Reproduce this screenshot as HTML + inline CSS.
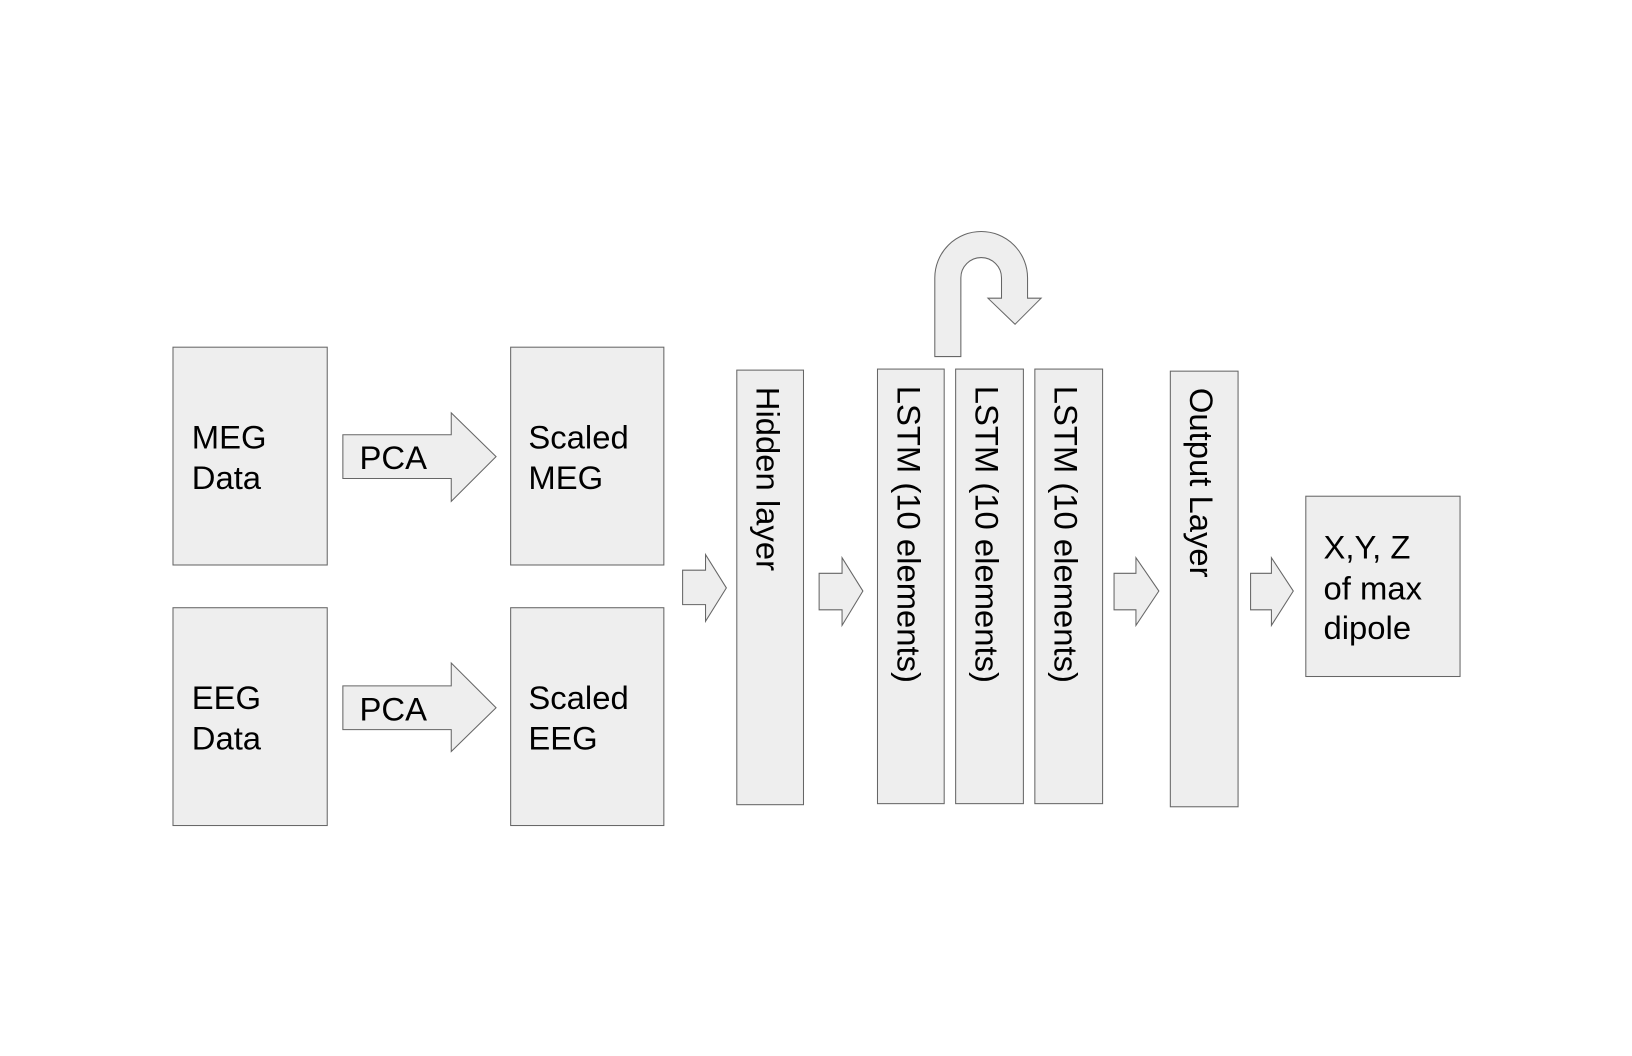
<!DOCTYPE html>
<html><head><style>html,body{margin:0;padding:0;background:#fff}svg{display:block}</style></head>
<body>
<svg width="1632" height="1056" viewBox="0 0 1566 1013" xmlns="http://www.w3.org/2000/svg" font-family="Liberation Sans, Arial, sans-serif">
<rect width="1566" height="1013" fill="#fff"/>
<g fill="#eeeeee" stroke="#666" stroke-width="1">
<rect x="166" y="333" width="148" height="209"/>
<rect x="490" y="333" width="147" height="209"/>
<rect x="166" y="583" width="148" height="209"/>
<rect x="490" y="583" width="147" height="209"/>
<rect x="707" y="355" width="64" height="417"/>
<rect x="842" y="354" width="64" height="417"/>
<rect x="917" y="354" width="65" height="417"/>
<rect x="993" y="354" width="65" height="417"/>
<rect x="1123" y="356" width="65" height="418"/>
<rect x="1253" y="476" width="148" height="173"/>
<path d="M329,417 L433,417 L433,396 L476,438 L433,481 L433,459 L329,459 Z"/>
<path d="M329,658 L433,658 L433,636 L476,679 L433,721 L433,700 L329,700 Z"/>
<path d="M655,547 L677,547 L677,532 L697,564 L677,596 L677,580 L655,580 Z"/>
<path d="M786,550 L808,550 L808,535 L828,567 L808,600 L808,585 L786,585 Z"/>
<path d="M1069,550 L1090,550 L1090,535 L1112,567 L1090,600 L1090,585 L1069,585 Z"/>
<path d="M1200,550 L1220,550 L1220,535 L1241,567 L1220,600 L1220,585 L1200,585 Z"/>
<path d="M897,342 L897,266.5 A44.5,44.5 0 0 1 986,266.5 L986,286 L999,286 L974,311 L948,286 L961,286 L961,266.5 A19.5,19.5 0 0 0 922,266.5 L922,342 Z"/>
</g>
<g fill="#000" font-size="31.5">
<text x="184" y="430">MEG</text><text x="184" y="469">Data</text>
<text x="507" y="430">Scaled</text><text x="507" y="469">MEG</text>
<text x="184" y="680">EEG</text><text x="184" y="719">Data</text>
<text x="507" y="680">Scaled</text><text x="507" y="719">EEG</text>
<text x="345" y="450">PCA</text><text x="345" y="691">PCA</text>
<text x="1270" y="536">X,Y, Z</text><text x="1270" y="575">of max</text><text x="1270" y="613">dipole</text>
</g>
<g fill="#000" font-size="31.5">
<text transform="translate(726,371) rotate(90)">Hidden layer</text>
<text transform="translate(861,370) rotate(90)">LSTM (10 elements)</text>
<text transform="translate(936,370) rotate(90)">LSTM (10 elements)</text>
<text transform="translate(1012,370) rotate(90)">LSTM (10 elements)</text>
<text transform="translate(1142,372) rotate(90)">Output Layer</text>
</g>
</svg>
</body></html>
